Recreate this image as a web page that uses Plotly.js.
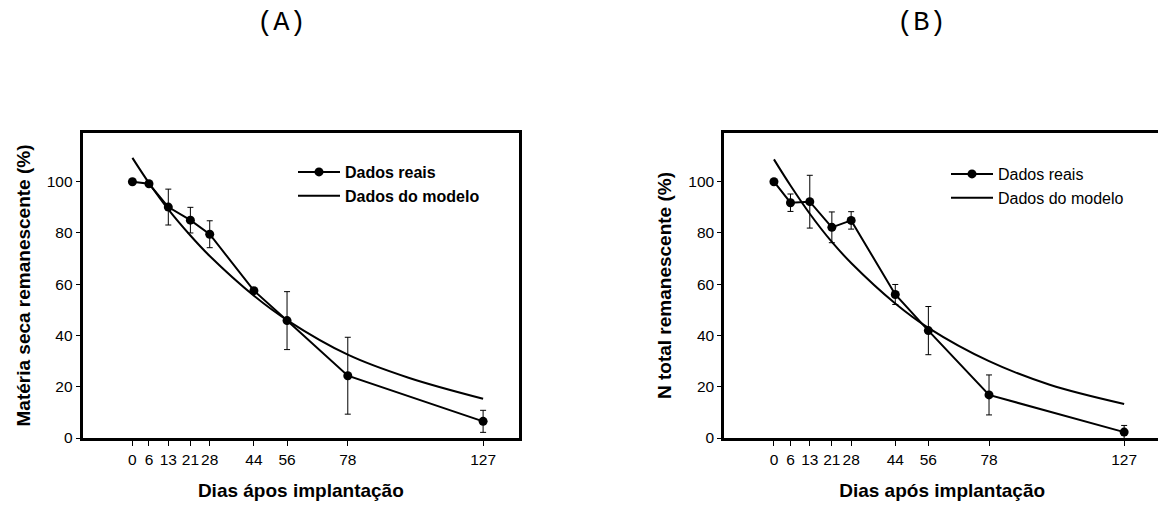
<!DOCTYPE html>
<html><head><meta charset="utf-8">
<script src="https://cdn.plot.ly/plotly-3.0.1.min.js"></script>
<style>html,body{margin:0;padding:0;overflow:hidden;background:#fff}#chart{width:1170px;height:506px}</style>
</head><body><div id="chart"></div>
<script>
// Days after implantation (shared x categories)
const days = [0, 6, 13, 21, 28, 44, 56, 78, 127];
const dayTickLabels = ['0', '6', '13', '21', '28', '44', '56', '78', '127'];
const yTickVals = [0, 20, 40, 60, 80, 100];

// Panel A: dry matter remaining (%)
const dryMatterReal = [100, 99.2, 90.1, 85.0, 79.5, 57.5, 45.8, 24.3, 6.5];
const dryMatterErr = [0, 0, 7.0, 5.0, 5.25, 0, 11.3, 15.0, 4.3];
const modelDays = [0, 6, 13, 21, 28, 44, 56, 78, 100, 127];
const dryMatterModel = [109.3, 99.5, 89.2, 79.0, 71.0, 55.5, 46.0, 32.5, 23.5, 15.3];

// Panel B: total N remaining (%)
const nitrogenReal = [100, 91.8, 92.2, 82.2, 84.9, 56.0, 41.9, 16.8, 2.3];
const nitrogenErr = [0, 3.4, 10.3, 6.0, 3.4, 3.9, 9.4, 7.8, 2.6];
const nitrogenModel = [108.7, 98.5, 87.5, 76.5, 68.3, 52.5, 43.0, 30.0, 20.8, 13.3];

const FONT = 'Arial, "Liberation Sans", sans-serif';
const W = 1170, H = 506;

function realTrace(y, err, xa, ya, legend, name) {
  return {
    type: 'scatter', mode: 'lines+markers', x: days, y: y, name: name,
    xaxis: xa, yaxis: ya, legend: legend,
    line: {color: '#000', width: 2},
    marker: {color: '#000', size: 9, symbol: 'circle'},
    error_y: {type: 'data', array: err, visible: true, color: '#000', thickness: 1, width: 3},
    hoverinfo: 'skip'
  };
}
function modelTrace(y, xa, ya, legend, name) {
  return {
    type: 'scatter', mode: 'lines', x: modelDays, y: y, name: name,
    xaxis: xa, yaxis: ya, legend: legend,
    line: {color: '#000', width: 2, shape: 'spline', smoothing: 1},
    hoverinfo: 'skip'
  };
}

const traces = [
  realTrace(dryMatterReal, dryMatterErr, 'x', 'y', 'legend', 'Dados reais'),
  modelTrace(dryMatterModel, 'x', 'y', 'legend', 'Dados do modelo'),
  realTrace(nitrogenReal, nitrogenErr, 'x2', 'y2', 'legend2', 'Dados reais'),
  modelTrace(nitrogenModel, 'x2', 'y2', 'legend2', 'Dados do modelo')
];

function xAxis(domain, anchor, title) {
  return {
    domain: domain, anchor: anchor, range: [-18, 140],
    tickmode: 'array', tickvals: days, ticktext: dayTickLabels, tickangle: 0,
    ticks: 'outside', ticklen: 5, tickwidth: 1, tickcolor: '#000',
    showline: true, linecolor: '#000', linewidth: 3, mirror: true,
    showgrid: false, zeroline: false,
    tickfont: {family: FONT, size: 15.5, color: '#000'},
    title: {text: title, font: {family: FONT, size: 19, color: '#000', weight: 'bold'}, standoff: 18}
  };
}
function yAxis(domain, anchor, title) {
  return {
    domain: domain, anchor: anchor, range: [0, 119],
    tickmode: 'array', tickvals: yTickVals,
    ticks: 'outside', ticklen: 4, tickwidth: 1, tickcolor: '#000',
    showline: true, linecolor: '#000', linewidth: 3, mirror: true,
    showgrid: false, zeroline: false,
    tickfont: {family: FONT, size: 15.5, color: '#000'},
    title: {text: title, font: {family: FONT, size: 19, color: '#000', weight: 'bold'}, standoff: 12}
  };
}

const yDom = [(H - 438) / H, (H - 133) / H];
const layout = {
  width: W, height: H,
  margin: {l: 0, r: 0, t: 0, b: 0},
  paper_bgcolor: '#fff', plot_bgcolor: '#fff',
  showlegend: true, hovermode: false,
  xaxis: xAxis([82.7 / W, 519 / W], 'y', 'Dias ápos implantação'),
  yaxis: yAxis(yDom, 'x', 'Matéria seca remanescente (%)'),
  xaxis2: xAxis([724.3 / W, 1160 / W], 'y2', 'Dias após implantação'),
  yaxis2: yAxis(yDom, 'x2', 'N total remanescente (%)'),
  legend: {
    x: 293 / W, y: (H - 155) / H, xanchor: 'left', yanchor: 'top',
    bgcolor: 'rgba(0,0,0,0)', borderwidth: 0, tracegroupgap: 0, itemwidth: 42,
    font: {family: FONT, size: 16, color: '#000', weight: 'bold'}
  },
  legend2: {
    x: 946 / W, y: (H - 157) / H, xanchor: 'left', yanchor: 'top',
    bgcolor: 'rgba(0,0,0,0)', borderwidth: 0, tracegroupgap: 0, itemwidth: 42,
    font: {family: FONT, size: 16, color: '#000'}
  },
  annotations: [
    {text: '(A)', xref: 'paper', yref: 'paper', x: 281 / W, y: (H - 23) / H,
     xanchor: 'center', yanchor: 'middle', showarrow: false,
     font: {family: '"Courier New", "Liberation Mono", monospace', size: 27, color: '#000'}},
    {text: '(B)', xref: 'paper', yref: 'paper', x: 921 / W, y: (H - 23) / H,
     xanchor: 'center', yanchor: 'middle', showarrow: false,
     font: {family: '"Courier New", "Liberation Mono", monospace', size: 27, color: '#000'}}
  ]
};

Plotly.newPlot('chart', traces, layout, {staticPlot: true, displayModeBar: false, responsive: false});
</script>
</body></html>
